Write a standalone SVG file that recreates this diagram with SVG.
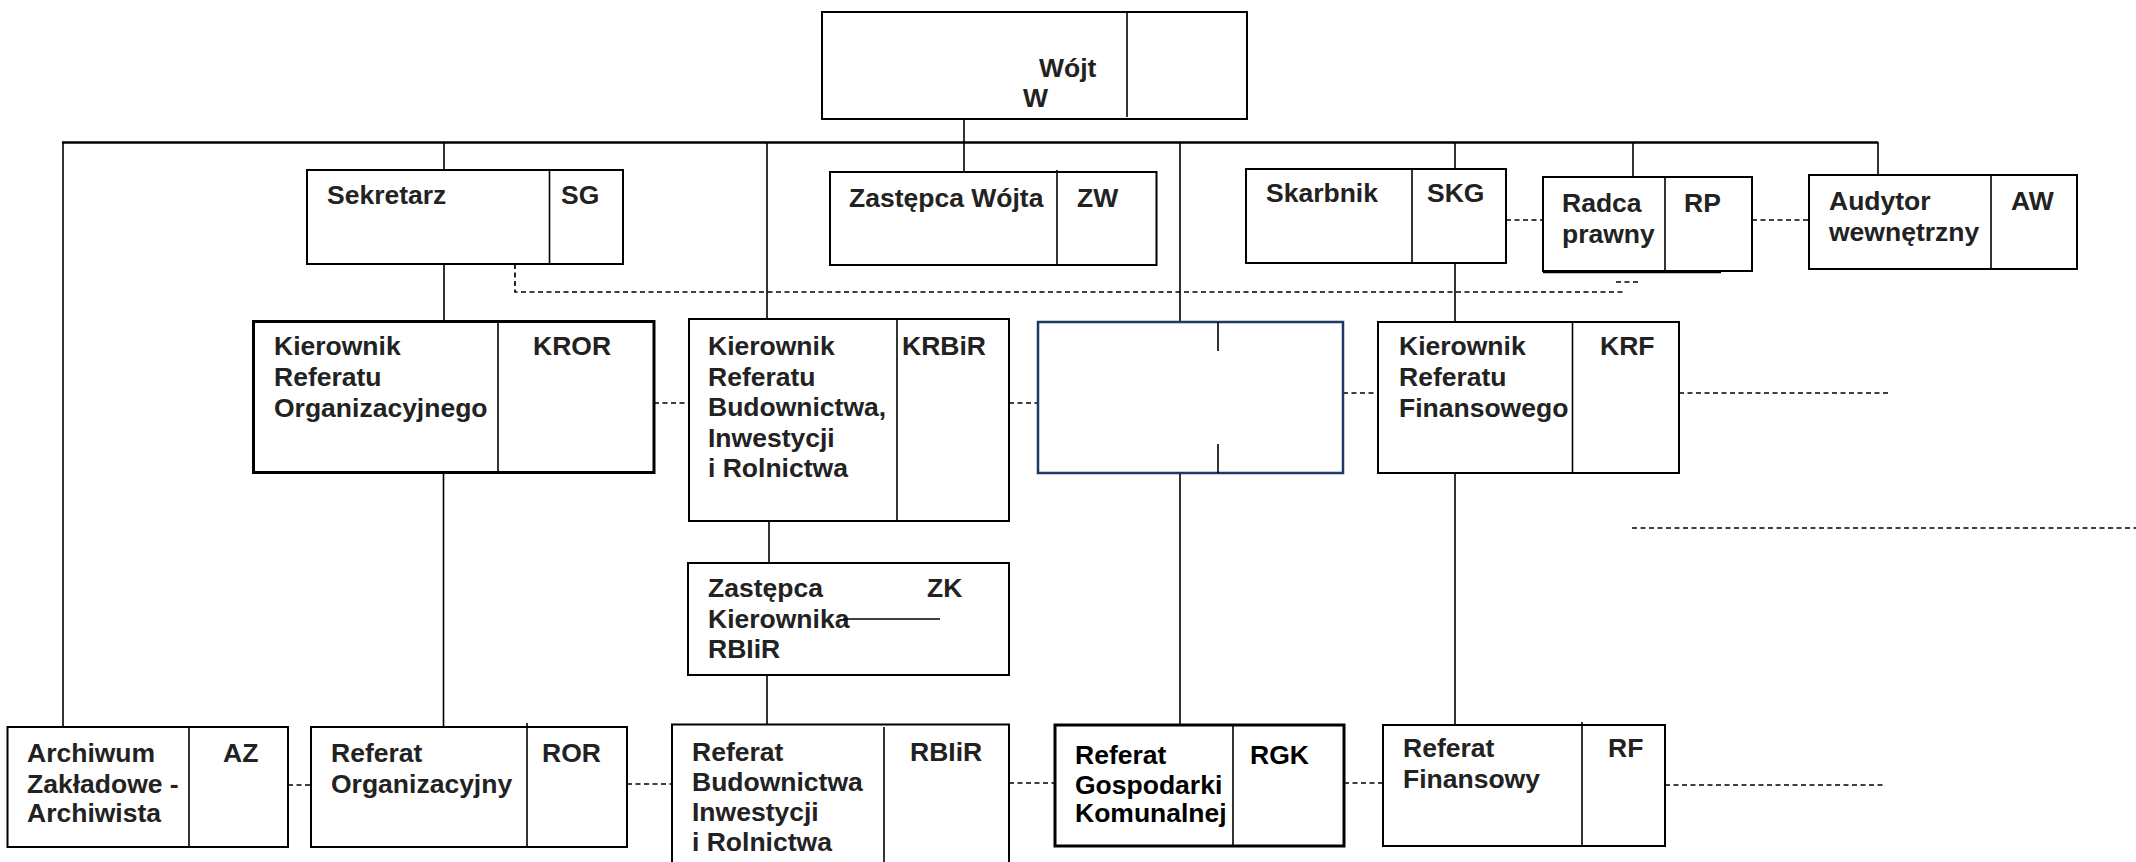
<svg xmlns="http://www.w3.org/2000/svg" width="2136" height="862" viewBox="0 0 2136 862">
<style>
.bg{fill:#fff}
.box{fill:#fff;stroke:#000;stroke-width:2}
.thick{stroke-width:3}
.navy{fill:#fff;stroke:#1f3864;stroke-width:2.5}
.div{stroke:#000;stroke-width:1.6;fill:none}
.ln{stroke:#000;stroke-width:1.6;fill:none}
.bus{stroke:#000;stroke-width:2.4;fill:none}
.dash{stroke:#000;stroke-width:1.7;fill:none;stroke-dasharray:5 3.5}
text{font-family:"Liberation Sans",Arial,sans-serif;font-weight:bold;font-size:26.5px;fill:#222}
</style>
<rect class="bg" x="0" y="0" width="2136" height="862"/>
<g id="connectors">
<path class="bus" d="M62 142.5H1878"/>
<path class="ln" d="M63 142V727"/>
<path class="ln" d="M964 119V172"/>
<path class="ln" d="M444 142V170M444 264V322M443.5 473V727"/>
<path class="ln" d="M767 142V319M769 521V563M767 675V724"/>
<path class="ln" d="M1180 142V322M1180 473V725"/>
<path class="ln" d="M1455 142V169M1455 263V322M1455 473V725"/>
<path class="ln" d="M1633 142V177"/>
<path class="ln" d="M1878 142V175"/>
<path class="dash" d="M515 264V292H1623"/>
<path class="dash" d="M1616 282H1640"/>
<path class="dash" d="M1506 220H1543"/>
<path class="dash" d="M1752 220H1809"/>
<path class="dash" d="M654 403H689"/>
<path class="dash" d="M1009 403H1038"/>
<path class="dash" d="M1343 393H1378"/>
<path class="dash" d="M1679 393H1889"/>
<path class="dash" d="M1632 528H2136"/>
<path class="dash" d="M288 785H311"/>
<path class="dash" d="M627 784H672"/>
<path class="dash" d="M1009 783H1055"/>
<path class="dash" d="M1344 783H1383"/>
<path class="dash" d="M1665 785H1885"/>
</g>
<g id="wojt">
<rect class="box" x="822" y="12" width="425" height="107"/>
<path class="div" d="M1127 12V117"/>
<text x="1039" y="77">Wójt</text>
<text x="1023" y="107">W</text>
</g>
<g id="sekretarz">
<rect class="box" x="307" y="170" width="316" height="94"/>
<path class="div" d="M549.5 170V264"/>
<text x="327" y="204">Sekretarz</text>
<text x="561" y="204">SG</text>
</g>
<g id="zastepca-wojta">
<rect class="box" x="830" y="172" width="326.5" height="93"/>
<path class="div" d="M1057 170V265"/>
<text x="849" y="207">Zastępca Wójta</text>
<text x="1077" y="207">ZW</text>
</g>
<g id="skarbnik">
<rect class="box" x="1246" y="169" width="260" height="94"/>
<path class="div" d="M1412 169V263"/>
<text x="1266" y="202">Skarbnik</text>
<text x="1427" y="202">SKG</text>
</g>
<g id="radca">
<rect class="box" x="1543" y="177" width="209" height="94"/>
<path class="div" d="M1665 177V271"/>
<path d="M1543 272.5H1721" stroke="#000" stroke-width="1.5"/>
<text x="1562" y="212">Radca</text>
<text x="1562" y="243">prawny</text>
<text x="1684" y="212">RP</text>
</g>
<g id="audytor">
<rect class="box" x="1809" y="175" width="268" height="94"/>
<path class="div" d="M1991 175V269"/>
<text x="1829" y="210">Audytor</text>
<text x="1829" y="241">wewnętrzny</text>
<text x="2011" y="210">AW</text>
</g>
<g id="kror">
<rect class="box thick" x="253.5" y="321.5" width="400.5" height="151"/>
<path class="div" d="M498 321.5V472.5"/>
<text x="274" y="355">Kierownik</text>
<text x="274" y="386">Referatu</text>
<text x="274" y="417">Organizacyjnego</text>
<text x="533" y="355">KROR</text>
</g>
<g id="krbir">
<rect class="box" x="689" y="319" width="320" height="202"/>
<path class="div" d="M897 319V521"/>
<text x="708" y="355">Kierownik</text>
<text x="708" y="386">Referatu</text>
<text x="708" y="416">Budownictwa,</text>
<text x="708" y="447">Inwestycji</text>
<text x="708" y="477">i Rolnictwa</text>
<text x="902" y="355">KRBiR</text>
</g>
<g id="blank-box">
<rect class="navy" x="1038" y="322" width="305" height="151"/>
<path class="div" d="M1218 322V351M1218 444V473"/>
</g>
<g id="krf">
<rect class="box" x="1378" y="322" width="301" height="151"/>
<path class="div" d="M1572.5 322V473"/>
<text x="1399" y="355">Kierownik</text>
<text x="1399" y="386">Referatu</text>
<text x="1399" y="417">Finansowego</text>
<text x="1600" y="355">KRF</text>
</g>
<g id="zk">
<rect class="box" x="688" y="563" width="321" height="112"/>
<text x="708" y="597">Zastępca</text>
<text x="708" y="628">Kierownika</text>
<text x="708" y="658">RBIiR</text>
<text x="927" y="597">ZK</text>
<path d="M843 619H940" stroke="#000" stroke-width="1.3"/>
</g>
<g id="az">
<rect class="box" x="7.5" y="727" width="280.5" height="120"/>
<path class="div" d="M189 727V847"/>
<text x="27" y="762">Archiwum</text>
<text x="27" y="793">Zakładowe -</text>
<text x="27" y="822">Archiwista</text>
<text x="223" y="762">AZ</text>
</g>
<g id="ror">
<rect class="box" x="311" y="727" width="316" height="120"/>
<path class="div" d="M527 723V847"/>
<text x="331" y="762">Referat</text>
<text x="331" y="793">Organizacyjny</text>
<text x="542" y="762">ROR</text>
</g>
<g id="rbiir">
<rect class="box" x="672" y="724.5" width="337" height="150"/>
<path class="div" d="M884 727V870"/>
<text x="692" y="761">Referat</text>
<text x="692" y="791">Budownictwa</text>
<text x="692" y="821">Inwestycji</text>
<text x="692" y="851">i Rolnictwa</text>
<text x="910" y="761">RBIiR</text>
</g>
<g id="rgk">
<rect class="box thick" x="1055" y="725" width="289" height="121"/>
<path class="div" d="M1233 725V846"/>
<text x="1075" y="764" style="fill:#000">Referat</text>
<text x="1075" y="794" style="fill:#000">Gospodarki</text>
<text x="1075" y="822" style="fill:#000">Komunalnej</text>
<text x="1250" y="764" style="fill:#000">RGK</text>
</g>
<g id="rf">
<rect class="box" x="1383" y="725" width="282" height="121"/>
<path class="div" d="M1582 722V846"/>
<text x="1403" y="757">Referat</text>
<text x="1403" y="788">Finansowy</text>
<text x="1608" y="757">RF</text>
</g>
</svg>
